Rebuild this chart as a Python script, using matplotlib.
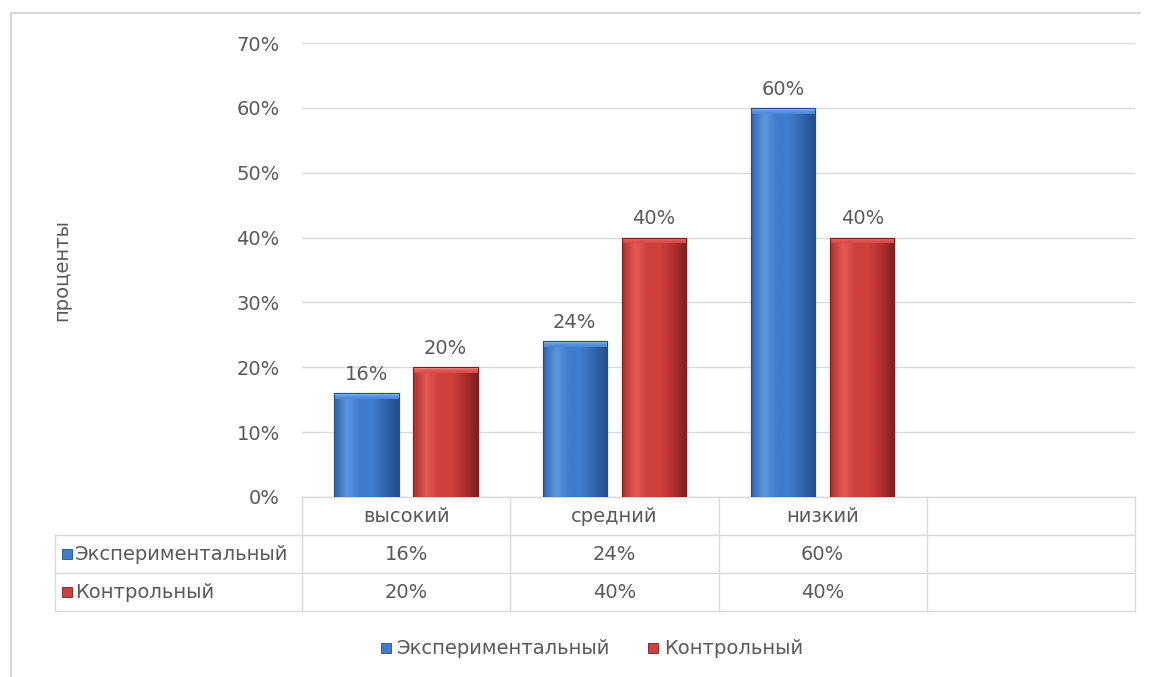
import matplotlib
matplotlib.use('Agg')
import matplotlib.pyplot as plt
import matplotlib.colors as mcolors
import numpy as np

plt.rcParams['font.family'] = ['DejaVu Sans']

# ── data ─────────────────────────────────────────────────────────────────────
categories = ["высокий", "средний", "низкий", ""]
series     = ["Экспериментальный", "Контрольный"]
exp_vals   = [0.16, 0.24, 0.60, None]
ctrl_vals  = [0.20, 0.40, 0.40, None]
y_ticks    = [0.0, 0.1, 0.2, 0.3, 0.4, 0.5, 0.6, 0.7]
y_label    = "проценты"

TXT   = '#595959'
GRID  = '#d9d9d9'
BLUE  = ['#5b97e0', '#3f7cca', '#2f65ad', '#244f8a']
RED   = ['#e35a56', '#cf3f3c', '#b02f2d', '#7e1f1e']
FS    = 14

W, H = 1150, 677
fig = plt.figure(figsize=(W / 100, H / 100), dpi=100)

# plot area in pixels of the reference
px_l, px_r, px_top, px_bot = 302, 1135, 43, 497
ax = fig.add_axes([px_l / W, 1 - px_bot / H, (px_r - px_l) / W, (px_bot - px_top) / H])
ax_h = px_bot - px_top
ax_w = px_r - px_l

# outer chart frame (partially visible in the reference)
fig.add_artist(plt.Line2D([11 / W, 1140 / W], [1 - 13 / H, 1 - 13 / H],
                          transform=fig.transFigure, color='#d0d0d0', lw=1.2))
fig.add_artist(plt.Line2D([11 / W, 11 / W], [0, 1 - 13 / H],
                          transform=fig.transFigure, color='#d0d0d0', lw=1.2))

x = np.arange(len(categories))
bw, off = 0.31, 0.19


def shaded_bar(xc, h, cols):
    bars = ax.bar(xc, h, width=bw, color=cols[1], edgecolor=cols[3], linewidth=0.8, zorder=3)
    patch = bars[0]
    x0, x1 = xc - bw / 2, xc + bw / 2
    cmap = mcolors.LinearSegmentedColormap.from_list('g', [cols[2], cols[0], cols[1], cols[1], cols[2], cols[3]])
    grad = np.linspace(0, 1, 64)[None, :]
    im = ax.imshow(grad, extent=(x0, x1, 0, h), aspect='auto', cmap=cmap,
                   origin='lower', zorder=3.5, interpolation='bilinear')
    im.set_clip_path(patch)
    # top bevel
    bev = 0.009
    cmap2 = mcolors.LinearSegmentedColormap.from_list('b', [cols[1], cols[0], '#ffffff'])
    vgrad = np.linspace(0.2, 0.75, 16)[:, None] * np.ones((1, 64))
    im2 = ax.imshow(vgrad, extent=(x0, x1, h - bev, h), aspect='auto', cmap=cmap2,
                    vmin=0, vmax=1, origin='lower', zorder=3.6, interpolation='bilinear')
    im2.set_clip_path(patch)
    ax.add_patch(plt.Rectangle((x0, 0), bw, h, fill=False, edgecolor=cols[3],
                               linewidth=0.8, zorder=3.7))
    ax.text(xc, h + 0.014, f"{h * 100:.0f}%", ha='center', va='bottom',
            fontsize=FS, color=TXT, zorder=4)


for i in range(len(categories)):
    if exp_vals[i] is not None:
        shaded_bar(x[i] - off, exp_vals[i], BLUE)
    if ctrl_vals[i] is not None:
        shaded_bar(x[i] + off, ctrl_vals[i], RED)

ax.set_xlim(-0.5, len(categories) - 0.5)
ax.set_ylim(0, 0.70)
ax.set_yticks(y_ticks)
ax.set_yticklabels([f"{t * 100:.0f}%" for t in y_ticks], fontsize=FS, color=TXT)
ax.tick_params(axis='y', length=0, pad=16)
ax.set_xticks([])
ax.yaxis.grid(True, color=GRID, lw=1)
ax.set_axisbelow(True)
for s in ax.spines.values():
    s.set_visible(False)

fig.text(62 / W, 1 - 270 / H, y_label, rotation=90, ha='center', va='center',
         fontsize=FS, color=TXT)

# ── data table below the axis ────────────────────────────────────────────────
row_h = 38 / ax_h
left_tab = (55 - px_l) / ax_w
line_kw = dict(transform=ax.transAxes, color=GRID, lw=1, clip_on=False)

ax.plot([0, 1], [0, 0], **line_kw)
for r in (1, 2, 3):
    ax.plot([left_tab, 1], [-r * row_h, -r * row_h], **line_kw)
ax.plot([left_tab, left_tab], [-row_h, -3 * row_h], **line_kw)
for k in range(len(categories) + 1):
    xa = k / len(categories)
    ax.plot([xa, xa], [0, -3 * row_h], **line_kw)

trans = ax.get_xaxis_transform()
for i, c in enumerate(categories):
    ax.text(x[i], -0.5 * row_h, c, transform=trans, ha='center', va='center',
            fontsize=FS, color=TXT)
    for r, vals in enumerate((exp_vals, ctrl_vals)):
        if vals[i] is not None:
            ax.text(x[i], -(1.5 + r) * row_h, f"{vals[i] * 100:.0f}%", transform=trans,
                    ha='center', va='center', fontsize=FS, color=TXT)

sq = 10 / ax_w
sq_h = 10 / ax_h
for r, (name, cols) in enumerate(zip(series, (BLUE, RED))):
    yc = -(1.5 + r) * row_h
    ax.add_patch(plt.Rectangle(((62 - px_l) / ax_w, yc - sq_h / 2), sq, sq_h,
                               transform=ax.transAxes, facecolor=cols[1],
                               edgecolor=cols[3], lw=0.6, clip_on=False))
    ax.text((75 - px_l) / ax_w, yc, name, transform=ax.transAxes, ha='left',
            va='center', fontsize=FS, color=TXT)

# ── legend ───────────────────────────────────────────────────────────────────
leg_y = 1 - 648 / H
for name, cols, xs in zip(series, (BLUE, RED), (386, 653)):
    fig.add_artist(plt.Rectangle(((xs - 5) / W, leg_y - 5 / H), 10 / W, 10 / H,
                                 transform=fig.transFigure, facecolor=cols[1],
                                 edgecolor=cols[3], lw=0.6))
    fig.text((xs + 11) / W, leg_y, name, ha='left', va='center', fontsize=FS, color=TXT)

fig.savefig('out.png', dpi=100)
